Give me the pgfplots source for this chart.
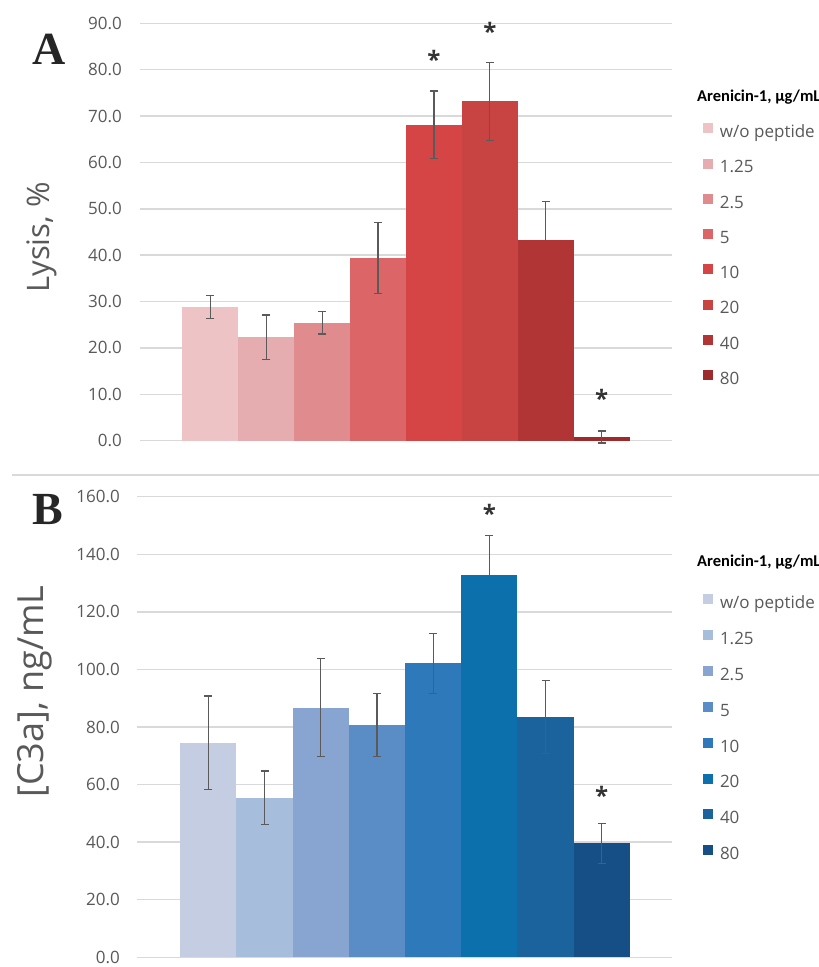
\documentclass[border=0pt]{standalone}
\usepackage{fontspec}
\setmainfont{Open Sans}
\newfontfamily\carlito{Carlito}
\newfontfamily\serifb{Liberation Serif}
\usepackage{pgfplots}
\pgfplotsset{compat=1.18}

\definecolor{a1}{HTML}{EDC3C5}
\definecolor{a2}{HTML}{E5ADAF}
\definecolor{a3}{HTML}{E08B8D}
\definecolor{a4}{HTML}{DB6567}
\definecolor{a5}{HTML}{D54545}
\definecolor{a6}{HTML}{C84442}
\definecolor{a7}{HTML}{B23535}
\definecolor{a8}{HTML}{9E2A2B}
\definecolor{b1}{HTML}{C4CDE2}
\definecolor{b2}{HTML}{A6BDDB}
\definecolor{b3}{HTML}{87A5D0}
\definecolor{b4}{HTML}{5A8DC5}
\definecolor{b5}{HTML}{2D79B9}
\definecolor{b6}{HTML}{0B70AB}
\definecolor{b7}{HTML}{1A639D}
\definecolor{b8}{HTML}{164F86}
\definecolor{gridgray}{HTML}{D9D9D9}
\definecolor{tickgray}{HTML}{595959}
\definecolor{errgray}{HTML}{5A5A5A}
\definecolor{stargray}{HTML}{333333}

\tikzset{starnode/.style={anchor=base, yshift=-14pt, font=\bfseries\fontsize{24}{24}\selectfont, text=stargray, inner sep=0pt}}

\pgfplotsset{
  common/.style={
    scale only axis,
    anchor=south west,
    clip=false,
    axis line style={draw=none},
    tick style={draw=none},
    major tick length=0pt,
    xtick=\empty,
    ymajorgrids,
    major grid style={gridgray, line width=1.5pt},
    yticklabel style={font=\fontsize{17}{17}\selectfont, text=tickgray, inner sep=0pt, anchor=east},
    /pgf/number format/.cd, fixed, fixed zerofill, precision=1, assume math mode=true,
    /pgfplots/.cd,
    every axis plot/.append style={ybar, bar width=1, bar shift=0pt, draw=none},
    error bars/y dir=both,
    error bars/y explicit,
    error bars/error bar style={line width=1.3pt, color=errgray},
    error bars/error mark options={rotate=90, mark size=4pt, line width=1.3pt, color=errgray},
    legend image code/.code={\fill[##1,draw=none] (0pt,0pt) rectangle (10pt,10pt);},
    legend cell align=left,
  },
}

\begin{document}
\begin{tikzpicture}
\path[use as bounding box] (0pt,0pt) rectangle (819pt,967pt);
\draw[gridgray, line width=1.5pt] (12pt,492pt) -- (819pt,492pt);
\node[anchor=base west, inner sep=0pt, font=\serifb\bfseries\fontsize{46}{46}\selectfont, text=black!85] at (32pt,902pt) {A};
\node[anchor=base west, inner sep=0pt, font=\serifb\bfseries\fontsize{46}{46}\selectfont, text=black!85] at (32pt,442pt) {B};
\node[anchor=base west, inner sep=0pt, font=\carlito\bfseries\fontsize{16.5}{16.5}\selectfont] at (697pt,865.5pt) {Arenicin-1, µg/mL};
\node[anchor=base west, inner sep=0pt, font=\carlito\bfseries\fontsize{16.5}{16.5}\selectfont] at (697pt,400.5pt) {Arenicin-1, µg/mL};

% Panel A
\begin{axis}[common,
  at={(140pt,526.3pt)}, width=532pt, height=417.4pt,
  xmin=-1.26, xmax=8.26, ymin=0, ymax=90,
  ytick={0,10,...,90},
  yticklabel style={xshift=-18pt},
  ylabel={Lysis, \%},
  ylabel style={at={(axis description cs:-0.185,0.487)}, anchor=center, font=\fontsize{31}{31}\selectfont, text=tickgray},
  legend style={at={(1.0577,0.760)}, anchor=north west, draw=none, fill=none, inner sep=0pt, outer sep=0pt,
    row sep=17.0pt, column sep=7.3pt,
    nodes={inner sep=0pt, text height=12.5pt, text depth=4pt, font=\fontsize{17}{17}\selectfont, text=tickgray}},
]
\addplot[fill=a1] coordinates {(0,28.8) +- (0,2.5)};
\addplot[fill=a2] coordinates {(1,22.3) +- (0,4.8)};
\addplot[fill=a3] coordinates {(2,25.4) +- (0,2.4)};
\addplot[fill=a4] coordinates {(3,39.4) +- (0,7.6)};
\addplot[fill=a5] coordinates {(4,68.1) +- (0,7.3)};
\addplot[fill=a6] coordinates {(5,73.2) +- (0,8.4)};
\addplot[fill=a7] coordinates {(6,43.2) +- (0,8.4)};
\addplot[fill=a8] coordinates {(7,0.8) +- (0,1.3)};
\legend{w/o peptide,1.25,2.5,5,10,20,40,80}
\node[starnode] at (axis cs:4,83.2) {*};
\node[starnode] at (axis cs:5,89.4) {*};
\node[starnode] at (axis cs:7,10.2) {*};
\end{axis}

% Panel B
\begin{axis}[common,
  at={(137pt,9.7pt)}, width=535pt, height=460.6pt,
  xmin=-1.27, xmax=8.25, ymin=0, ymax=160,
  ytick={0,20,...,160},
  yticklabel style={xshift=-17pt},
  ylabel={[C3a], ng/mL},
  ylabel style={at={(axis description cs:-0.1916,0.577)}, anchor=center, font=\fontsize{36}{36}\selectfont, text=tickgray},
  legend style={at={(1.0574,0.788)}, anchor=north west, draw=none, fill=none, inner sep=0pt, outer sep=0pt,
    row sep=17.6pt, column sep=7.3pt,
    nodes={inner sep=0pt, text height=12.5pt, text depth=4pt, font=\fontsize{17}{17}\selectfont, text=tickgray}},
]
\addplot[fill=b1] coordinates {(0,74.6) +- (0,16.2)};
\addplot[fill=b2] coordinates {(1,55.4) +- (0,9.3)};
\addplot[fill=b3] coordinates {(2,86.7) +- (0,17.0)};
\addplot[fill=b4] coordinates {(3,80.7) +- (0,11.0)};
\addplot[fill=b5] coordinates {(4,102.1) +- (0,10.5)};
\addplot[fill=b6] coordinates {(5,132.9) +- (0,13.5)};
\addplot[fill=b7] coordinates {(6,83.5) +- (0,12.7)};
\addplot[fill=b8] coordinates {(7,39.6) +- (0,6.9)};
\legend{w/o peptide,1.25,2.5,5,10,20,40,80}
\node[starnode] at (axis cs:5,156) {*};
\node[starnode] at (axis cs:7,58.1) {*};
\end{axis}
\end{tikzpicture}
\end{document}
